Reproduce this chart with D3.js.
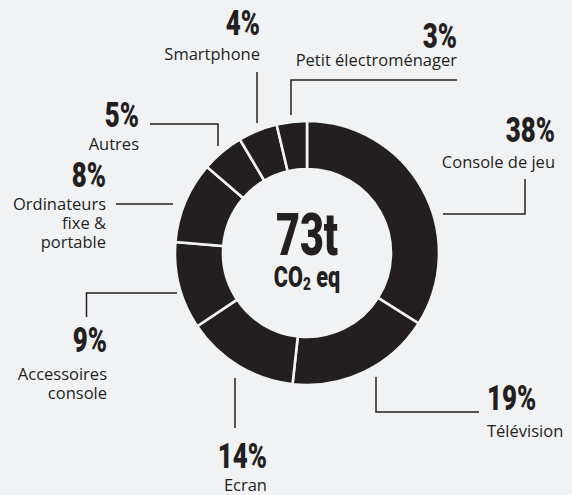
<!DOCTYPE html>
<html>
<head>
<meta charset="utf-8">
<script src="https://cdn.jsdelivr.net/npm/d3@7"></script>
<style>
  html, body { margin: 0; padding: 0; background: #f1f2f4; }
  svg { display: block; }
</style>
</head>
<body>
<svg id="chart" width="572" height="495"></svg>
<script>
// ---- data ----
const categories = ["Console de jeu", "Télévision", "Ecran", "Accessoires console",
  "Ordinateurs fixe & portable", "Autres", "Smartphone", "Petit électroménager"];
const percentLabels = ["38%", "19%", "14%", "9%", "8%", "5%", "4%", "3%"];
// arc shares as drawn in the picture (angular share of the ring)
const shares = [34, 17.8, 13.9, 10.7, 10, 5.2, 4.8, 3.7];
const labelLines = [["Console de jeu"], ["Télévision"], ["Ecran"], ["Accessoires", "console"],
  ["Ordinateurs", "fixe &", "portable"], ["Autres"], ["Smartphone"], ["Petit électroménager"]];
const totalLabel = "73t";

// ---- layout (annotation placement) ----
const layout = [
  { anchor: "end",   x: 555, py: 142, ly: 168, line: [[443,214],[525,214],[525,179]] },
  { anchor: "start", x: 487, py: 410, ly: 437, line: [[376,377],[376,412],[479,412]] },
  { anchor: "end",   x: 267, py: 468, ly: 491, line: [[235,378],[235,428]] },
  { anchor: "end",   x: 107, py: 352, ly: 380, line: [[177,293],[86.5,293],[86.5,317]] },
  { anchor: "end",   x: 106, py: 187, ly: 210, line: [[173,204],[116,204]] },
  { anchor: "end",   x: 139, py: 127, ly: 150, line: [[218,146],[218,124],[150,124]] },
  { anchor: "end",   x: 260, py: 35,  ly: 60,  line: [[257,123],[257,72]] },
  { anchor: "end",   x: 457, py: 48,  ly: 66,  line: [[291,115],[291,80],[457,80]] }
];

const ink = "#231f20";
const bg = "#f1f2f4";
const cx = 307, cy = 253;
const svg = d3.select("#chart");

const pie = d3.pie().sort(null).value(d => d)(shares);
const arc = d3.arc().innerRadius(84).outerRadius(132);

svg.append("g").attr("transform", `translate(${cx},${cy})`)
  .selectAll("path").data(pie).join("path")
  .attr("d", arc)
  .attr("fill", ink)
  .attr("stroke", bg)
  .attr("stroke-width", 2.6)
  .attr("stroke-linejoin", "miter");

// leader lines
const lineGen = d3.line();
svg.append("g").selectAll("path").data(layout).join("path")
  .attr("d", d => lineGen(d.line))
  .attr("fill", "none")
  .attr("stroke", ink)
  .attr("stroke-width", 1.5);

// percentages
const condensed = 0.74;
const pctG = svg.append("g").selectAll("g").data(layout).join("g")
  .attr("transform", d => `translate(${d.x},${d.py}) scale(${condensed},1)`);
pctG.append("text")
  .attr("text-anchor", d => d.anchor)
  .attr("font-family", "Roboto, 'Liberation Sans', sans-serif")
  .attr("font-weight", 900)
  .attr("font-size", 35)
  .attr("fill", ink)
  .text((d, i) => percentLabels[i]);

// category labels
const lblG = svg.append("g").selectAll("text").data(layout).join("text")
  .attr("text-anchor", d => d.anchor)
  .attr("font-family", "'Open Sans', 'Noto Sans', sans-serif")
  .attr("font-size", 16.5)
  .attr("fill", ink);
lblG.each(function(d, i) {
  const t = d3.select(this);
  labelLines[i].forEach((s, k) => {
    t.append("tspan").attr("x", d.x).attr("y", d.ly + k * 19).text(s);
  });
});

// centre text
svg.append("g").attr("transform", `translate(${cx},255) scale(0.7,1)`)
  .append("text")
  .attr("text-anchor", "middle")
  .attr("font-family", "Roboto, 'Liberation Sans', sans-serif")
  .attr("font-weight", 900)
  .attr("font-size", 59)
  .attr("fill", ink)
  .text(totalLabel);

const co2 = svg.append("g").attr("transform", `translate(${cx},287) scale(0.72,1)`)
  .append("text")
  .attr("text-anchor", "middle")
  .attr("font-family", "Roboto, 'Liberation Sans', sans-serif")
  .attr("font-weight", 900)
  .attr("font-size", 30)
  .attr("fill", ink);
co2.append("tspan").text("CO");
co2.append("tspan").attr("font-size", 19).attr("dy", 3).text("2");
co2.append("tspan").attr("dy", -3).text(" eq");
</script>
</body>
</html>
